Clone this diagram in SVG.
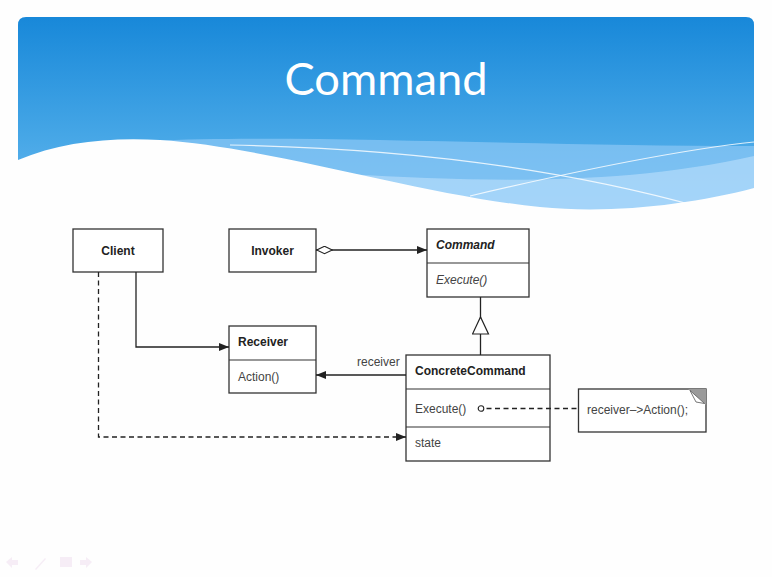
<svg xmlns="http://www.w3.org/2000/svg" width="772" height="577" viewBox="0 0 772 577">
  <defs>
    <linearGradient id="sky" x1="0" y1="0" x2="0" y2="1">
      <stop offset="0" stop-color="#1888d9"/>
      <stop offset="0.55" stop-color="#45a6e6"/>
      <stop offset="1" stop-color="#6fbcf2"/>
    </linearGradient>
    <clipPath id="panelClip">
      <path d="M18,25 Q18,17 26,17 H746 Q754,17 754,25 V230 H18 Z"/>
    </clipPath>
    <marker id="arrow" viewBox="0 0 10 8" refX="10" refY="4" markerWidth="10" markerHeight="8" markerUnits="userSpaceOnUse" orient="auto">
      <path d="M0,0 L10,4 L0,8 Z" fill="#222"/>
    </marker>
    <marker id="diamond" viewBox="0 0 17 9" refX="0" refY="4.5" markerWidth="17" markerHeight="9" markerUnits="userSpaceOnUse" orient="auto">
      <path d="M0.7,4.5 L8.5,0.8 L16.3,4.5 L8.5,8.2 Z" fill="#fff" stroke="#222" stroke-width="1.2"/>
    </marker>
    <marker id="hollowTri" viewBox="0 0 20 18" refX="18" refY="9" markerWidth="20" markerHeight="18" markerUnits="userSpaceOnUse" orient="auto">
      <path d="M1,1 L18,9 L1,17 Z" fill="#fff" stroke="#222" stroke-width="1.2"/>
    </marker>
    <marker id="dot" viewBox="0 0 8 8" refX="1" refY="4" markerWidth="8" markerHeight="8" markerUnits="userSpaceOnUse" orient="auto">
      <circle cx="4" cy="4" r="2.8" fill="#fff" stroke="#222" stroke-width="1.1"/>
    </marker>
    <style>
      .box { fill: #fff; stroke: #333; stroke-width: 1.3; }
      .div { stroke: #333; stroke-width: 1.2; }
      .name { font-family: "Liberation Sans", Arial, sans-serif; font-size: 12px; font-weight: bold; fill: #222; }
      .op { font-family: "Liberation Sans", Arial, sans-serif; font-size: 12px; fill: #444; }
      .ital { font-style: italic; }
      .line { fill: none; stroke: #222; stroke-width: 1.3; }
      .dash { fill: none; stroke: #222; stroke-width: 1.3; stroke-dasharray: 5 3.5; }
    </style>
  </defs>

  <rect width="772" height="577" fill="#fefefe"/>

  <!-- title banner -->
  <g id="banner" clip-path="url(#panelClip)">
    <rect x="18" y="17" width="736" height="213" fill="url(#sky)"/>
    <path d="M150,141 C300,134 520,146 754,146 V230 H150 Z" fill="#8cc8f5" opacity="0.7"/>
    <path d="M346,174 C480,182 620,186 754,156 V230 H346 Z" fill="#b4dcfb" opacity="0.7"/>
    <path d="M230,145 C400,148 560,168 700,207" fill="none" stroke="#ffffff" stroke-width="1.2" opacity="0.8"/>
    <path d="M470,196 C580,170 680,150 754,142" fill="none" stroke="#ffffff" stroke-width="1.2" opacity="0.8"/>
    <path d="M18,160 C60,142 110,137 160,140 C270,147 420,195 540,207 C610,214 690,205 754,188 V230 H18 Z" fill="#fefefe"/>
    <text x="386" y="95" text-anchor="middle" font-family="Lato, 'Open Sans', sans-serif" font-size="44" fill="#ffffff" textLength="203" lengthAdjust="spacingAndGlyphs">Command</text>
  </g>

  <g id="client">
    <rect class="box" x="73" y="229" width="90" height="43"/>
    <text class="name" x="118" y="255" text-anchor="middle">Client</text>
  </g>

  <g id="invoker">
    <rect class="box" x="229" y="229" width="87" height="43"/>
    <text class="name" x="272.5" y="255" text-anchor="middle">Invoker</text>
  </g>

  <g id="command">
    <rect class="box" x="427" y="229" width="102" height="68"/>
    <line class="div" x1="427" y1="263" x2="529" y2="263"/>
    <text class="name ital" x="436" y="249">Command</text>
    <text class="op ital" x="436" y="284">Execute()</text>
  </g>

  <g id="receiver">
    <rect class="box" x="229" y="326" width="87" height="67"/>
    <line class="div" x1="229" y1="360" x2="316" y2="360"/>
    <text class="name" x="238" y="346">Receiver</text>
    <text class="op" x="238" y="381">Action()</text>
  </g>

  <g id="concrete-command">
    <rect class="box" x="406" y="355" width="144" height="106"/>
    <line class="div" x1="406" y1="389" x2="550" y2="389"/>
    <line class="div" x1="406" y1="427" x2="550" y2="427"/>
    <text class="name" x="415" y="375">ConcreteCommand</text>
    <text class="op" x="415" y="413">Execute()</text>
    <text class="op" x="415" y="447">state</text>
  </g>

  <g id="note">
    <rect class="box" x="578.5" y="389" width="127.5" height="43"/>
    <path d="M688,389 H706 V405 Z" fill="#9a9a9a"/>
    <path d="M690,390.5 L704.5,403.5 L696,402 Z" fill="#ffffff" stroke="#555" stroke-width="0.8"/>
    <text class="op" x="587" y="414">receiver–&gt;Action();</text>
  </g>

  <!-- connectors -->
  <g id="connectors">
    <path class="line" d="M316,250 H427" marker-start="url(#diamond)" marker-end="url(#arrow)"/>
    <path class="line" d="M480.5,355 V317" marker-end="url(#hollowTri)"/>
    <path class="line" d="M480.5,317 V297"/>
    <path class="line" d="M136,272 V347 H229" marker-end="url(#arrow)"/>
    <path class="line" d="M406,375 H316" marker-end="url(#arrow)"/>
    <text class="op" x="357" y="366">receiver</text>
    <path class="dash" d="M98.5,272 V437 H406" marker-end="url(#arrow)"/>
    <path class="dash" d="M478,408.5 H578" marker-start="url(#dot)"/>
  </g>

  <!-- slideshow controls -->
  <g id="controls" opacity="0.35" fill="#e8d0e8">
    <path d="M6,562 L12,557 V560 H18 V565 H12 V568 Z"/>
    <path d="M35,569 L45,558 L46,559 L36,570 Z"/>
    <rect x="60" y="557" width="12" height="10"/>
    <path d="M92,562 L86,557 V560 H80 V565 H86 V568 Z"/>
  </g>
</svg>
